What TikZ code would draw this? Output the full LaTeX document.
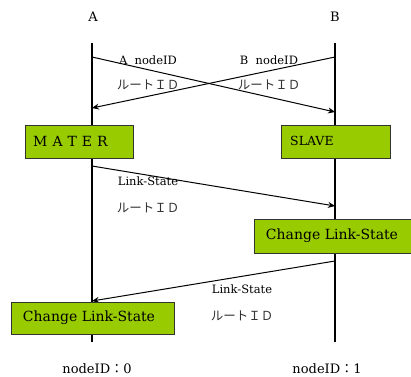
\documentclass[tikz,border=0pt]{standalone}
\usepackage{fontspec}
\setmainfont{DejaVu Serif}
\newfontfamily\jp{Noto Sans CJK JP}
\usetikzlibrary{arrows.meta}
\definecolor{boxgreen}{HTML}{99CC00}
\begin{document}
\begin{tikzpicture}[x=1pt,y=-1pt,
  life/.style={line width=1.4pt},
  msg/.style={line width=1pt,-{Stealth[length=7pt,width=6pt]}},
  state/.style={draw=black!80,line width=0.8pt,fill=boxgreen,anchor=north west,inner sep=0pt},
  lbl/.style={font=\fontsize{11.5}{13}\selectfont,inner sep=0pt},
  jlbl/.style={font=\jp\fontsize{12.5}{14}\selectfont,inner sep=0pt,text=black!80},
  boxtxt/.style={font=\fontsize{14}{16}\selectfont,inner sep=0pt},
  head/.style={font=\fontsize{13}{15}\selectfont,inner sep=0pt}]
\useasboundingbox (0,0) rectangle (411,376);
\node[head] (A) at (93,17) {A};
\node[head] (B) at (335,17) {B};
\coordinate (a0) at (92,43);
\coordinate (a1) at (92,342);
\coordinate (b0) at (335,43);
\coordinate (b1) at (335,342);
\draw[life] (a0) -- (a1);
\draw[life] (b0) -- (b1);
% cross
\coordinate (as) at (92,57);
\coordinate (be) at (335,112);
\coordinate (bs) at (335,57);
\coordinate (ae) at (92,108);
\draw[msg] (as) -- (be);
\draw[msg] (bs) -- (ae);
\node[lbl] (l1) at (148,60) {A\ \ nodeID};
\node[lbl] (l2) at (269,60) {B\ \ nodeID};
\node[jlbl] (j1) at (148,85) {ルートＩＤ};
\node[jlbl] (j2) at (269,85) {ルートＩＤ};
% boxes
\node[state,minimum width=108pt,minimum height=33pt] (mater) at (25,125) {};
\node[boxtxt,anchor=west] (mt) at (33,141) {M\hspace{5pt}A\hspace{5pt}T\hspace{5pt}E\hspace{5pt}R};
\node[state,minimum width=109pt,minimum height=33pt] (slave) at (281,125) {};
\node[font=\fontsize{12.5}{15}\selectfont,anchor=west,inner sep=0pt] (st) at (290,141) {SLAVE};
% msg 2
\coordinate (m2s) at (92,166);
\coordinate (m2e) at (335,206);
\draw[msg] (m2s) -- (m2e);
\node[lbl] (l3) at (148,181) {Link-State};
\node[jlbl] (j3) at (148,208) {ルートＩＤ};
\node[state,minimum width=158pt,minimum height=34pt] (cr) at (254,219) {};
\node[boxtxt] (crt) at (332,236) {Change Link-State};
% msg 3
\coordinate (m3s) at (335,261);
\coordinate (m3e) at (92,301);
\draw[msg] (m3s) -- (m3e);
\node[lbl] (l4) at (242,289) {Link-State};
\node[jlbl] (j4) at (242,316) {ルートＩＤ};
\node[state,minimum width=163pt,minimum height=32pt] (cl) at (11,302) {};
\node[boxtxt] (clt) at (89,318) {Change Link-State};
% footer
\node[head] (n0) at (97,369) {nodeID{\jp：}0};
\node[head] (n1) at (327,369) {nodeID{\jp：}1};
\end{tikzpicture}
\end{document}
